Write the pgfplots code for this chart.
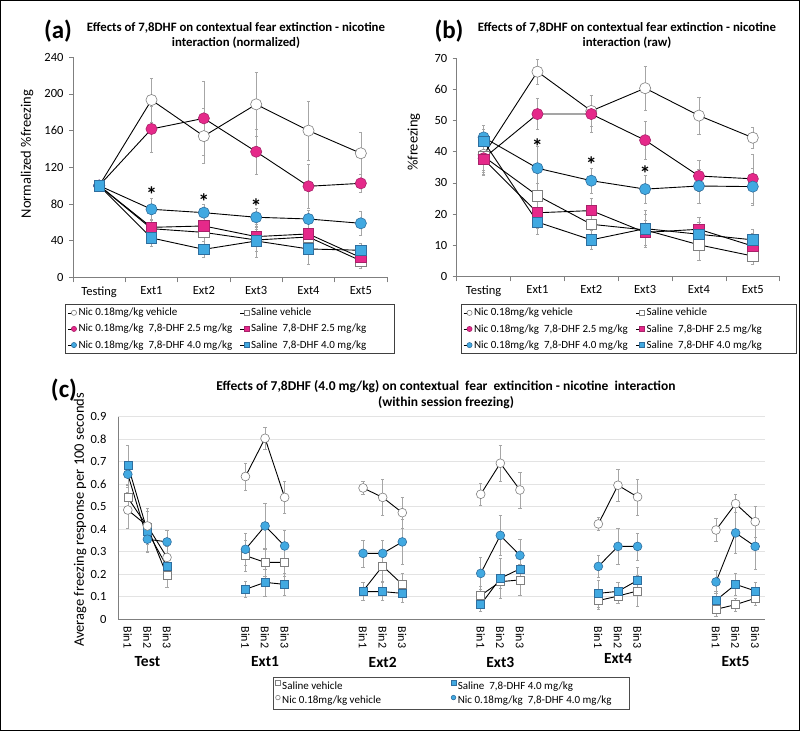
\documentclass[border=0pt]{standalone}
\usepackage{pgfplots}
\pgfplotsset{compat=1.18}
\usepackage{fontspec}
\setmainfont{Carlito}

\definecolor{cblue}{HTML}{41A9E1}
\definecolor{cblueedge}{HTML}{2F6E9E}
\definecolor{cpink}{HTML}{E5298A}
\definecolor{cpinkedge}{HTML}{A8226A}
\definecolor{mgray}{HTML}{7F7F7F}
\definecolor{egray}{HTML}{A6A6A6}

\newcommand\legwC[1]{\makebox[167pt][l]{#1}}

\pgfplotsset{
  errs/.style={error bars/y dir=both, error bars/y explicit,
    error bars/error bar style={egray,line width=0.5pt},
    error bars/error mark options={egray, rotate=90, mark size=1.6pt, line width=0.5pt}},
  sline/.style={black, line width=0.9pt},
  nicveh/.style={sline, mark=*, mark size=5.6pt, mark options={solid, fill=white, draw=mgray, line width=0.6pt}},
  salveh/.style={sline, mark=square*, mark size=5.2pt, mark options={solid, fill=white, draw=mgray, line width=0.6pt}},
  nicpk/.style={sline, mark=*, mark size=5.6pt, mark options={solid, fill=cpink, draw=cpinkedge, line width=0.6pt}},
  salpk/.style={sline, mark=square*, mark size=5.2pt, mark options={solid, fill=cpink, draw=cpinkedge, line width=0.6pt}},
  nicbl/.style={sline, mark=*, mark size=5.6pt, mark options={solid, fill=cblue, draw=cblueedge, line width=0.6pt}},
  salbl/.style={sline, mark=square*, mark size=5.2pt, mark options={solid, fill=cblue, draw=cblueedge, line width=0.6pt}},
  topaxis/.style={
    scale only axis, anchor=south west,
    xmin=-0.5, xmax=5.5, ymin=0,
    xtick={0,...,5}, xticklabels={Testing,Ext1,Ext2,Ext3,Ext4,Ext5},
    minor xtick={-0.5,0.5,...,5.5},
    axis lines*=left, axis line style={mgray, line width=0.6pt},
    tick align=outside, major tick length=4pt, minor tick length=5pt,
    major x tick style={draw=none}, minor x tick style={mgray, line width=0.6pt},
    y tick style={mgray, line width=0.6pt},
    tick label style={font=\fontsize{12.5}{14}\selectfont},
    xticklabel style={yshift=-2pt},
    yticklabel style={xshift=-2pt},
    /pgf/number format/assume math mode=true,
    clip=false,
    legend columns=2, legend cell align=left,
    legend style={anchor=north, draw=black!75, line width=0.6pt,
      font=\fontsize{11}{13}\selectfont, row sep=3pt, inner sep=2pt,
      /tikz/every even column/.append style={column sep=6pt}},
    legend image code/.code={\draw[black, line width=0.5pt] (-6pt,0pt) -- (0pt,0pt); \draw[#1, mark size=2.6pt] plot coordinates {(0pt,0pt)};},
  },
}

\begin{document}
\begin{tikzpicture}
\useasboundingbox (0pt,0pt) rectangle (800pt,731pt);
\draw[line width=1.3pt] (0.65pt,0.65pt) rectangle (799.35pt,730.35pt);

% ---------------- panel (a)
\node[font=\bfseries\fontsize{25}{27}\selectfont] at (58pt,700pt) {(a)};
\node[align=center, font=\bfseries\fontsize{12.8}{15}\selectfont] at (236pt,695.5pt) {Effects of 7,8DHF on contextual fear extinction - nicotine\\interaction (normalized)};
\node[rotate=90, font=\fontsize{14.5}{16}\selectfont] at (27pt,577pt) {Normalized \%freezing};
\begin{axis}[topaxis, at={(73pt,453.7pt)}, width=314pt, height=220pt,
  ymax=240, ytick={0,40,...,240},
  legend style={at={(0.5,-0.121)}}]
\addplot[nicveh, errs] table[x=x,y=y,y error=e] {
x y e
0 100 0
1 193.4 24
2 154 30
3 188.7 35
4 160 32
5 135.3 23
};
\addlegendentry{Nic 0.18mg/kg vehicle}
\addplot[salveh, errs] table[x=x,y=y,y error=e] {
x y e
0 100 0
1 53 10
2 49 10
3 40.7 12
4 44 10
5 18 8
};
\addlegendentry{Saline vehicle}
\addplot[nicpk, errs] table[x=x,y=y,y error=e] {
x y e
0 100 0
1 161.8 25
2 173.4 40
3 137 25
4 99.3 24
5 102.5 10
};
\addlegendentry{Nic 0.18mg/kg\ \ 7,8-DHF 2.5 mg/kg}
\addplot[salpk, errs] table[x=x,y=y,y error=e] {
x y e
0 100 0
1 54.5 8
2 56 12
3 44.4 10
4 47.3 12
5 21.5 8
};
\addlegendentry{Saline\ \ 7,8-DHF 2.5 mg/kg\hspace*{24pt}}
\addplot[nicbl, errs] table[x=x,y=y,y error=e] {
x y e
0 100 0
1 74.2 12
2 70.5 9
3 65.5 10
4 63.6 10
5 58.9 13
};
\addlegendentry{Nic 0.18mg/kg\ \ 7,8-DHF 4.0 mg/kg}
\addplot[salbl, errs] table[x=x,y=y,y error=e] {
x y e
0 100 0
1 42.9 9
2 30.5 9
3 39.6 18
4 30.9 17
5 29.5 8
};
\addlegendentry{Saline\ \ 7,8-DHF 4.0 mg/kg}
\node[font=\bfseries\fontsize{22}{22}\selectfont] at (axis cs:1,90) {*};
\node[font=\bfseries\fontsize{22}{22}\selectfont] at (axis cs:2,82) {*};
\node[font=\bfseries\fontsize{22}{22}\selectfont] at (axis cs:3,77.5) {*};
\end{axis}

% ---------------- panel (b)
\node[font=\bfseries\fontsize{25}{27}\selectfont] at (449pt,700pt) {(b)};
\node[align=center, font=\bfseries\fontsize{12.8}{15}\selectfont] at (627pt,695.5pt) {Effects of 7,8DHF on contextual fear extinction - nicotine\\interaction (raw)};
\node[rotate=90, font=\fontsize{14.5}{16}\selectfont] at (414pt,589pt) {\%freezing};
\begin{axis}[topaxis, at={(456.7pt,454.7pt)}, width=323pt, height=218pt,
  ymax=70, ytick={0,10,...,70},
  legend style={at={(0.532,-0.127)}}]
\addplot[nicveh, errs] table[x=x,y=y,y error=e] {
x y e
0 39 5
1 65.7 4
2 53.1 5
3 60.4 7
4 51.6 6
5 44.5 3.5
};
\addlegendentry{Nic 0.18mg/kg vehicle}
\addplot[salveh, errs] table[x=x,y=y,y error=e] {
x y e
0 38.5 5
1 25.9 4
2 16.7 4
3 14.9 5
4 10.1 5
5 6.5 2.5
};
\addlegendentry{Saline vehicle}
\addplot[nicpk, errs] table[x=x,y=y,y error=e] {
x y e
0 37.9 5
1 52.1 5
2 52.1 6
3 43.7 6
4 32.2 5
5 31.3 8
};
\addlegendentry{Nic 0.18mg/kg\ \ 7,8-DHF 2.5 mg/kg}
\addplot[salpk, errs] table[x=x,y=y,y error=e] {
x y e
0 37.6 5
1 20.4 5
2 21.1 4
3 14.1 4
4 15.1 4
5 9.7 4
};
\addlegendentry{Saline\ \ 7,8-DHF 2.5 mg/kg\hspace*{30pt}}
\addplot[nicbl, errs] table[x=x,y=y,y error=e] {
x y e
0 44.6 4
1 34.7 7
2 30.7 4
3 28.0 4.5
4 29.0 5.5
5 28.8 6
};
\addlegendentry{Nic 0.18mg/kg\ \ 7,8-DHF 4.0 mg/kg}
\addplot[salbl, errs] table[x=x,y=y,y error=e] {
x y e
0 43.3 4
1 17.4 4
2 11.7 3
3 15.3 6
4 13.5 4
5 11.7 3.5
};
\addlegendentry{Saline\ \ 7,8-DHF 4.0 mg/kg}
\node[font=\bfseries\fontsize{22}{22}\selectfont] at (axis cs:1,41.6) {*};
\node[font=\bfseries\fontsize{22}{22}\selectfont] at (axis cs:2,35.8) {*};
\node[font=\bfseries\fontsize{22}{22}\selectfont] at (axis cs:3,33.1) {*};
\end{axis}

% ---------------- panel (c)
\node[font=\bfseries\fontsize{25}{27}\selectfont] at (64pt,341pt) {(c)};
\node[align=center, font=\bfseries\fontsize{13.5}{16}\selectfont] at (446pt,336pt) {Effects of 7,8DHF (4.0 mg/kg) on contextual\ \ fear\ \ extincition - nicotine\ \ interaction\\(within session freezing)};
\node[rotate=90, font=\fontsize{14.5}{16}\selectfont] at (80pt,211pt) {Average freezing response per 100 seconds};
\begin{axis}[scale only axis, anchor=south west, at={(118pt,112pt)}, width=647pt, height=202.3pt,
  xmin=-0.5, xmax=32.5, ymin=0, ymax=0.9,
  ytick={0,0.1,0.2,0.3,0.4,0.5,0.6,0.7,0.8,0.9},
  yticklabel style={font=\fontsize{12.5}{14}\selectfont, xshift=-8pt, /pgf/number format/fixed, /pgf/number format/precision=1},
  xtick={0,1,2,6,7,8,12,13,14,18,19,20,24,25,26,30,31,32},
  xticklabels={Bin1,Bin2,Bin3,Bin1,Bin2,Bin3,Bin1,Bin2,Bin3,Bin1,Bin2,Bin3,Bin1,Bin2,Bin3,Bin1,Bin2,Bin3},
  xticklabel style={rotate=-90, anchor=west, font=\fontsize{12}{13}\selectfont, xshift=4pt},
  /pgf/number format/assume math mode=true,
  axis lines*=left, axis line style={mgray, line width=0.6pt},
  tick style={draw=none},
  ymajorgrids, major grid style={gray!22, line width=0.5pt},
  unbounded coords=jump, clip=false,
  legend columns=2, legend cell align=left,
  legend style={at={(0.515,-0.287)}, anchor=north, draw=black!70, line width=0.6pt,
    font=\fontsize{11}{13}\selectfont, row sep=1.5pt, inner sep=2pt,
    nodes={inner sep=2pt}},
  legend image code/.code={\draw[#1, mark size=2.3pt] plot coordinates {(0pt,3pt)};},
]
\addplot[salveh, mark size=4pt, errs] table[x=x,y=y,y error=e] {
x y e
0 0.54 0.06
1 0.41 0.07
2 0.193 0.05
3 nan 0
6 0.282 0.07
7 0.252 0.06
8 0.252 0.06
9 nan 0
12 0.125 0.04
13 0.236 0.07
14 0.154 0.05
15 nan 0
18 0.105 0.04
19 0.166 0.03
20 0.174 0.07
21 nan 0
24 0.082 0.04
25 0.102 0.03
26 0.125 0.07
27 nan 0
30 0.043 0.03
31 0.064 0.03
32 0.092 0.03
};
\addlegendentry{\legwC{Saline vehicle}}
\addplot[salbl, mark size=4pt, errs] table[x=x,y=y,y error=e] {
x y e
0 0.685 0.09
1 0.39 0.09
2 0.233 0.04
3 nan 0
6 0.132 0.035
7 0.163 0.06
8 0.154 0.05
9 nan 0
12 0.122 0.04
13 0.122 0.04
14 0.114 0.04
15 nan 0
18 0.064 0.03
19 0.181 0.09
20 0.223 0.06
21 nan 0
24 0.114 0.06
25 0.123 0.04
26 0.172 0.06
27 nan 0
30 0.083 0.04
31 0.154 0.05
32 0.125 0.04
};
\addlegendentry{\legwC{Saline\ \ 7,8-DHF 4.0 mg/kg}}
\addplot[nicveh, mark size=4.4pt, errs] table[x=x,y=y,y error=e] {
x y e
0 0.485 0.08
1 0.414 0.08
2 0.274 0.05
3 nan 0
6 0.634 0.06
7 0.804 0.05
8 0.541 0.07
9 nan 0
12 0.583 0.03
13 0.541 0.08
14 0.473 0.07
15 nan 0
18 0.555 0.05
19 0.693 0.08
20 0.574 0.08
21 nan 0
24 0.423 0.03
25 0.595 0.07
26 0.543 0.08
27 nan 0
30 0.396 0.05
31 0.513 0.04
32 0.433 0.07
};
\addlegendentry{\legwC{Nic 0.18mg/kg vehicle}}
\addplot[nicbl, mark size=4.4pt, errs] table[x=x,y=y,y error=e] {
x y e
0 0.644 0.06
1 0.355 0.06
2 0.343 0.05
3 nan 0
6 0.31 0.07
7 0.414 0.1
8 0.325 0.07
9 nan 0
12 0.292 0.06
13 0.292 0.06
14 0.343 0.1
15 nan 0
18 0.203 0.07
19 0.372 0.09
20 0.283 0.07
21 nan 0
24 0.234 0.05
25 0.323 0.08
26 0.323 0.06
27 nan 0
30 0.165 0.05
31 0.383 0.09
32 0.323 0.1
};
\addlegendentry{\legwC{Nic 0.18mg/kg\ \ 7,8-DHF 4.0 mg/kg}}
\node[font=\bfseries\fontsize{15.5}{17}\selectfont, yshift=-43pt] at (axis cs:1,0) {Test};
\node[font=\bfseries\fontsize{15.5}{17}\selectfont, yshift=-43pt] at (axis cs:7,0) {Ext1};
\node[font=\bfseries\fontsize{15.5}{17}\selectfont, yshift=-43pt] at (axis cs:13,0) {Ext2};
\node[font=\bfseries\fontsize{15.5}{17}\selectfont, yshift=-43pt] at (axis cs:19,0) {Ext3};
\node[font=\bfseries\fontsize{15.5}{17}\selectfont, yshift=-40pt] at (axis cs:25,0) {Ext4};
\node[font=\bfseries\fontsize{15.5}{17}\selectfont, yshift=-43pt] at (axis cs:31,0) {Ext5};
\end{axis}
\end{tikzpicture}
\end{document}
